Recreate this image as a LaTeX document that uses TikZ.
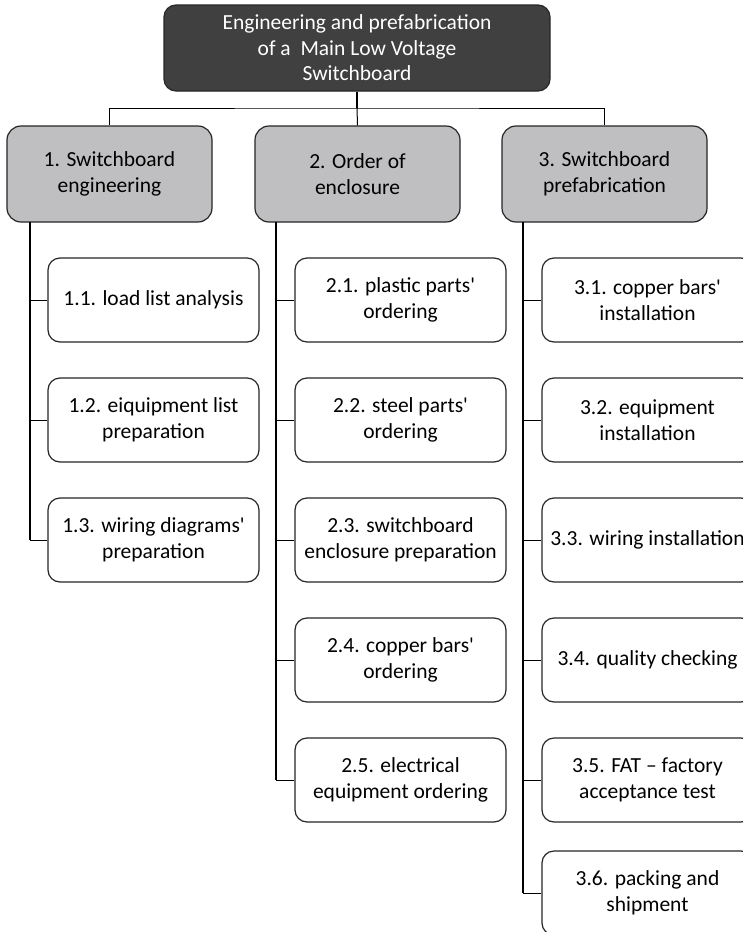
\documentclass[tikz,border=0pt]{standalone}
\usepackage{fontspec}
\setmainfont{Carlito}
\definecolor{WBSDark}{HTML}{404040}
\definecolor{WBSGray}{HTML}{BFBFC1}
\definecolor{WBSLine}{HTML}{262626}
\newcommand{\apos}{\textquotesingle}

\begin{document}
\begin{tikzpicture}[x=1pt,y=-1pt,
  font=\fontsize{21.5}{25.5}\selectfont,
  rootbox/.style={draw=WBSLine,fill=WBSDark,text=white,rounded corners=12,line width=1.2pt,
    minimum width=386,minimum height=86,align=center,inner sep=0},
  phasebox/.style={draw=WBSLine,fill=WBSGray,rounded corners=14,line width=1.2pt,
    minimum width=205,minimum height=96,align=center,inner sep=0},
  taskbox/.style={draw=WBSLine,fill=white,rounded corners=12,line width=1.2pt,
    minimum width=211,minimum height=84,align=center,inner sep=0},
  trunk/.style={line width=1.8pt},
  stub/.style={line width=1pt}]
\path[use as bounding box] (0,0) rectangle (743,932);
\clip (0,0) rectangle (743,932);
\fill[white] (0,0) rectangle (743,932);
% root and phases
\node[rootbox] (root) at (357,48) {Engineering and prefabrication\\of a~ Main Low Voltage\\Switchboard};
\node[phasebox] (p1) at (109.5,174) {1. Switchboard\\engineering};
\node[phasebox] (p2) at (357.5,174) {2. Order of\\enclosure};
\node[phasebox] (p3) at (604.5,174) {3. Switchboard\\prefabrication};
% tasks
\node[taskbox] (t11) at (153.5,300) {1.1. load list analysis};
\node[taskbox] (t12) at (153.5,420) {1.2. eiquipment list\\preparation};
\node[taskbox] (t13) at (153.5,540) {1.3. wiring diagrams\apos\\preparation};
\node[taskbox] (t21) at (400.5,300) {2.1. plastic parts\apos\\ordering};
\node[taskbox] (t22) at (400.5,420) {2.2. steel parts\apos\\ordering};
\node[taskbox] (t23) at (400.5,540) {2.3. switchboard\\enclosure preparation};
\node[taskbox] (t24) at (400.5,660) {2.4. copper bars\apos\\ordering};
\node[taskbox] (t25) at (400.5,780) {2.5. electrical\\equipment ordering};
\node[taskbox] (t31) at (647.5,300) {3.1. copper bars\apos\\installation};
\node[taskbox] (t32) at (647.5,420) {3.2. equipment\\installation};
\node[taskbox] (t33) at (647.5,540) {3.3. wiring installation};
\node[taskbox] (t34) at (647.5,660) {3.4. quality checking};
\node[taskbox] (t35) at (647.5,780) {3.5. FAT -- factory\\acceptance test};
\node[taskbox] (t36) at (647.5,893) {3.6. packing and\\shipment};
% connectors
\coordinate (bus) at (357,108);
\draw[trunk] (root.south) -- (bus);
\draw[stub] (p1.north) |- (bus) -| (p3.north);
\draw[stub] (bus) -- (p2.north);
\coordinate (k1) at (30,222);
\coordinate (k2) at (276,222);
\coordinate (k3) at (523,222);
\draw[trunk] (k1) -- (k1 |- t13.west);
\draw[trunk] (k2) -- (k2 |- t25.west);
\draw[trunk] (k3) -- (k3 |- t36.west);
\foreach \i in {1,2,3} \draw[stub] (k1 |- t1\i.west) -- (t1\i.west);
\foreach \i in {1,...,5} \draw[stub] (k2 |- t2\i.west) -- (t2\i.west);
\foreach \i in {1,...,6} \draw[stub] (k3 |- t3\i.west) -- (t3\i.west);
\end{tikzpicture}
\end{document}
